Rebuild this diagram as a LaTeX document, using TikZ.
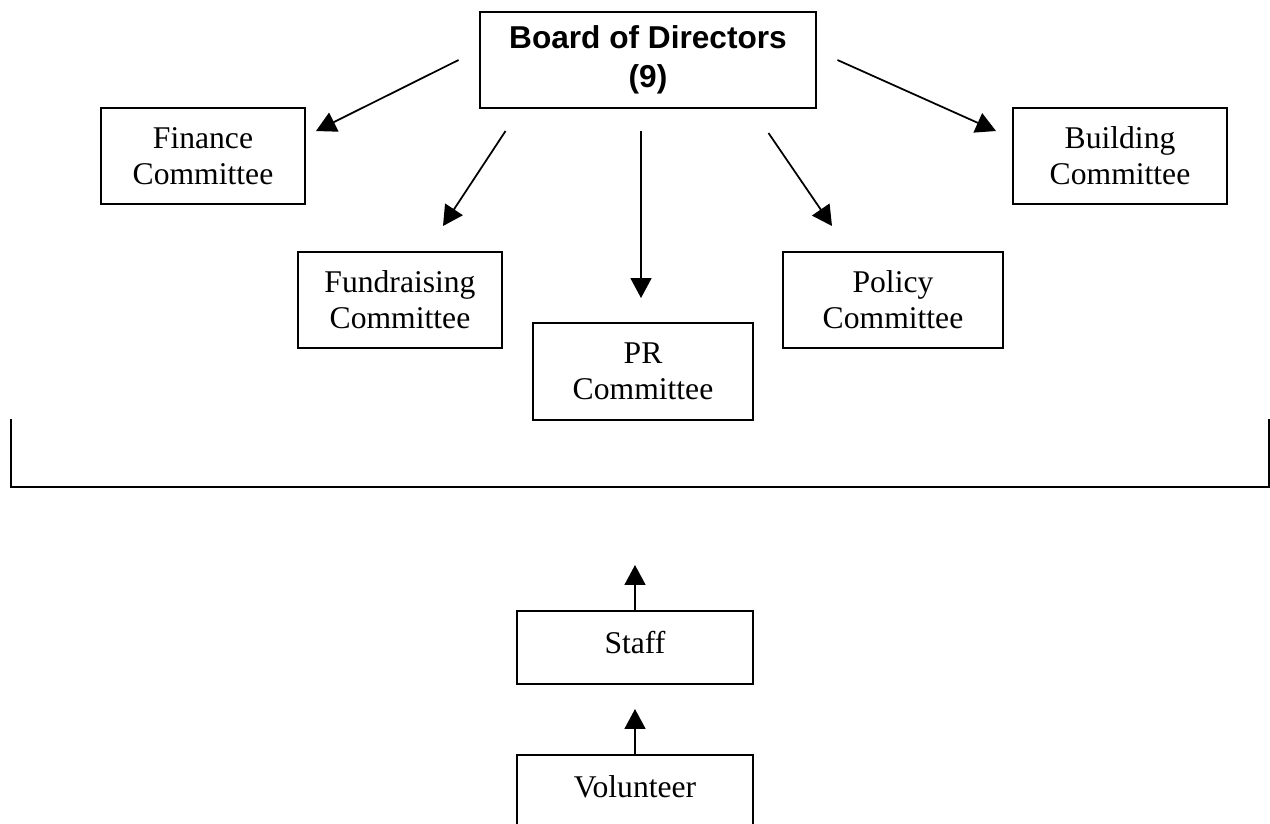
\documentclass[tikz,border=0pt]{standalone}
\usepackage{fontspec}
\setmainfont{Liberation Serif}
\newfontfamily\boardfont{Liberation Sans}
\usetikzlibrary{arrows.meta}
\newcommand{\committeefont}{\fontsize{18}{20.5}\selectfont}

\tikzset{
  box/.style={draw, line width=0.04cm, inner sep=0pt, align=center, font=\committeefont},
  committee/.style={box, minimum height=1.92cm},
  boardbox/.style={box, font=\boardfont\bfseries\fontsize{18}{22}\selectfont},
  staffbox/.style={box, anchor=north, minimum width=4.72cm, text height=0.84cm},
  arr/.style={line width=0.035cm, -{Triangle[width=0.42cm,length=0.4cm]}}
}

\begin{document}
\begin{tikzpicture}[x=0.02cm, y=-0.02cm]
      \useasboundingbox (0,0) rectangle (1270,823);

      \node[boardbox, minimum width=6.74cm, minimum height=1.92cm] (board) at (648,60) {Board of Directors\\(9)};

      \node[committee, minimum width=4.08cm] (finance) at (203,156) {Finance\\Committee};
      \node[committee, minimum width=4.28cm] (building) at (1120,156) {Building\\Committee};
      \node[committee, minimum width=4.08cm] (fundraising) at (400,300) {Fundraising\\Committee};
      \node[committee, minimum width=4.4cm] (policy) at (893,300) {Policy\\Committee};
      \node[committee, minimum width=4.4cm, minimum height=1.94cm] (pr) at (643,371.5) {PR\\Committee};

      \node[staffbox, text depth=0.62cm] (staff) at (635,610) {Staff};
      \node[staffbox, text depth=0.88cm] (volunteer) at (635,754) {Volunteer};

      \draw[line width=0.04cm] (11,419) -- (11,487) -- (1269,487) -- (1269,419);
      \coordinate (bracketmid) at (635,487);

      \draw[arr] ([shift={(-20,0)}]board.west) -- ([shift={(10,24)}]finance.north east);
      \draw[arr] ([shift={(27,22)}]board.south west) -- ([shift={(43,-25)}]fundraising.north);
      \draw[arr] ([shift={(-7,22)}]board.south) -- ([shift={(-2,-24)}]pr.north);
      \draw[arr] ([shift={(-49,24)}]board.south east) -- ([shift={(-61,-25)}]policy.north);
      \draw[arr] ([shift={(20,0)}]board.east) -- ([shift={(-16,24)}]building.north west);

      \draw[arr, shorten >=1.56cm] (staff.north) -- (bracketmid);
      \draw[arr, shorten >=0.48cm] (volunteer.north) -- (staff.south);
    \end{tikzpicture}
\end{document}
